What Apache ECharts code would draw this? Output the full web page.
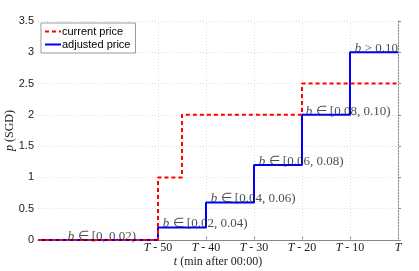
<!DOCTYPE html>
<html><head><meta charset="utf-8">
<script src="https://cdn.jsdelivr.net/npm/echarts@6/dist/echarts.min.js"></script>
<style>html,body{margin:0;padding:0;background:#fff}#c{width:419px;height:271px}</style>
</head><body><div id="c"></div>
<script>
// time in minutes relative to T (T = 0)
const currentTimes = [-75, -50, -45, -20, 0];
const currentPrices = [0, 1, 2, 2.5, 2.5];
const adjustedTimes = [-75, -50, -40, -30, -20, -10, 0];
const adjustedPrices = [0, 0.2, 0.6, 1.2, 2, 3, 3];
const xTicks = [-50, -40, -30, -20, -10, 0];
const labelTimes = [-68.8, -49, -39, -29, -19.2, -9];
const labelLevels = [0, 0.2, 0.6, 1.2, 2, 3];
const labelTexts = ['∈ [0, 0.02)', '∈ [0.02, 0.04)', '∈ [0.04, 0.06)', '∈ [0.06, 0.08)', '∈ [0.08, 0.10)', '> 0.10'];

const serif = 'Liberation Serif';
const sans = 'Liberation Sans';
const gridLine = {color: '#ddd', type: [1, 2], width: 1};
const chart = echarts.init(document.getElementById('c'));
chart.setOption({
  animation: false,
  grid: {left: 38, right: 21, top: 21, bottom: 31, outerBoundsMode: 'none', containLabel: false},
  legend: {
    left: 41, top: 23, orient: 'vertical', itemGap: 2, itemWidth: 16, itemHeight: 10,
    padding: [3, 5, 3, 3], borderColor: '#999', borderWidth: 1, backgroundColor: '#fff',
    itemStyle: {opacity: 0},
    textStyle: {fontFamily: sans, fontSize: 11, color: '#000', padding: [0, 0, 0, -4]},
    data: ['current price', 'adjusted price']
  },
  xAxis: {
    type: 'value', min: -75, max: 0,
    axisLine: {lineStyle: {color: '#888'}},
    axisTick: {inside: true, length: 3, customValues: xTicks, lineStyle: {color: '#888'}},
    splitLine: {show: false},
    axisLabel: {
      customValues: xTicks, margin: 2, fontFamily: serif, fontSize: 12, color: '#222',
      formatter: v => v === 0 ? '{i|T}' : '{i|T} - ' + (-v),
      rich: {i: {fontStyle: 'italic', fontFamily: serif, fontSize: 12, color: '#222'}}
    },
    name: '{i|t} (min after 00:00)', nameLocation: 'middle', nameGap: 16, nameMoveOverlap: false,
    nameTextStyle: {fontFamily: serif, fontSize: 12, color: '#222',
      rich: {i: {fontStyle: 'italic', fontFamily: serif, fontSize: 12, color: '#222'}}}
  },
  yAxis: {
    type: 'value', min: 0, max: 3.5, interval: 0.5,
    axisLine: {show: true, lineStyle: {color: '#888'}},
    axisTick: {show: true, inside: true, length: 3, lineStyle: {color: '#888'}},
    splitLine: {show: true, lineStyle: gridLine},
    axisLabel: {fontFamily: sans, fontSize: 11, color: '#222', margin: 4},
    name: '{i|p} (SGD)', nameLocation: 'middle', nameGap: 22, nameMoveOverlap: false,
    nameTextStyle: {fontFamily: serif, fontSize: 12, color: '#222',
      rich: {i: {fontStyle: 'italic', fontFamily: serif, fontSize: 12, color: '#222'}}}
  },
  series: [
    {
      name: 'adjusted price', type: 'line', step: 'end', showSymbol: false, symbol: 'none', z: 2,
      lineStyle: {color: '#0000ff', width: 2}, itemStyle: {color: '#0000ff'},
      data: adjustedTimes.map((t, i) => [t, adjustedPrices[i]]),
      markLine: {
        silent: true, symbol: 'none', label: {show: false}, z: 1,
        lineStyle: gridLine, emphasis: {disabled: true},
        data: xTicks.map(v => ({xAxis: v}))
      }
    },
    {
      name: 'current price', type: 'line', step: 'end', showSymbol: false, symbol: 'none', z: 3,
      lineStyle: {color: '#ff0000', width: 2, type: [4, 3]}, itemStyle: {color: '#ff0000'},
      data: currentTimes.map((t, i) => [t, currentPrices[i]])
    },
    {
      type: 'scatter', symbolSize: 0, z: 4, silent: true,
      label: {
        show: true, position: [0, 3], align: 'left', verticalAlign: 'bottom',
        fontFamily: serif, fontSize: 13, color: '#222',
        formatter: p => '{i|b} ' + labelTexts[p.dataIndex],
        rich: {i: {fontStyle: 'italic', fontFamily: serif, fontSize: 13, color: '#222'}}
      },
      data: labelTimes.map((t, i) => [t, labelLevels[i]])
    }
  ]
});
</script></body></html>
